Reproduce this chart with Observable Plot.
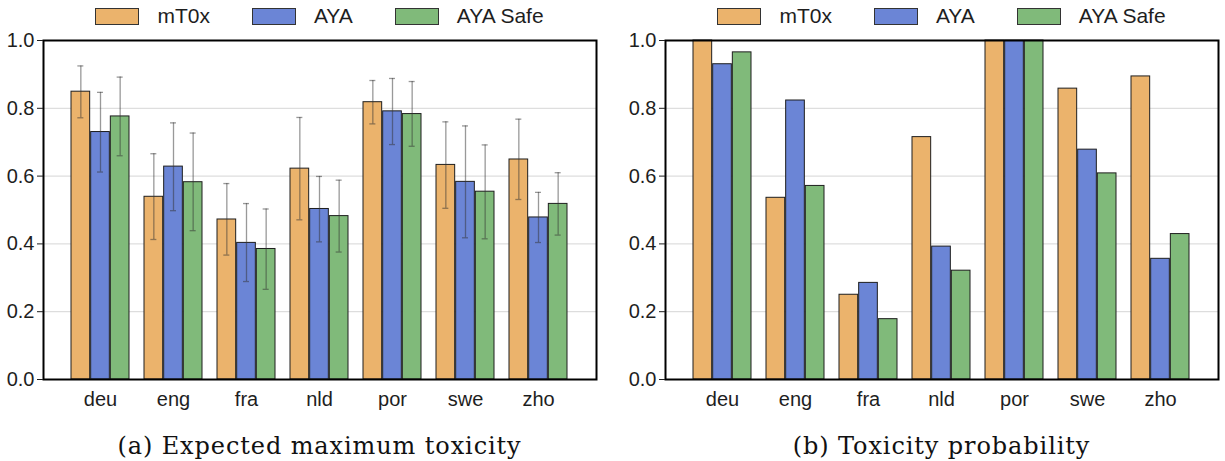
<!DOCTYPE html>
<html><head><meta charset="utf-8">
<script src="https://cdn.jsdelivr.net/npm/d3@7"></script>
<script src="https://cdn.jsdelivr.net/npm/@observablehq/plot@0.6"></script>
<style>
html,body{margin:0;padding:0;background:#fff;}
body{width:1225px;height:461px;overflow:hidden;position:relative;font-family:"Liberation Sans",Arial,sans-serif;color:#1e1e1e;}
.panel{position:absolute;top:0;height:461px;}
.legend{position:absolute;top:0;height:32px;display:flex;align-items:center;justify-content:center;font-size:21px;}
.item{display:flex;align-items:center;margin:0 21px;}
.sw{display:inline-block;width:42px;height:15px;border:1px solid #333;margin-right:18px;}
.chart{position:absolute;top:30px;left:0;}
.caption{position:absolute;top:432px;left:0;font-family:"DejaVu Serif",serif;font-size:24px;letter-spacing:0.9px;line-height:28px;text-align:center;white-space:nowrap;color:#111;}
</style></head>
<body>
<div id="pa" class="panel" style="left:0;width:610px;"></div>
<div id="pb" class="panel" style="left:610px;width:615px;"></div>
<script>
const langs = ["deu","eng","fra","nld","por","swe","zho"];
const models = ["mT0x","AYA","AYA Safe"];
const colors = ["#EBB36C","#6B85D6","#80BA7A"];
const yTicks = [0,0.2,0.4,0.6,0.8,1.0];
const captions = ["(a) Expected maximum toxicity","(b) Toxicity probability"];

// (a) Expected maximum toxicity
const mt0xExp = [0.849,0.539,0.472,0.622,0.818,0.633,0.649];
const ayaExp  = [0.730,0.628,0.403,0.503,0.791,0.583,0.478];
const safeExp = [0.776,0.582,0.385,0.482,0.783,0.554,0.518];
const mt0xLo = [0.772,0.413,0.367,0.471,0.754,0.505,0.531];
const mt0xHi = [0.925,0.666,0.578,0.773,0.882,0.760,0.768];
const ayaLo  = [0.612,0.498,0.289,0.406,0.693,0.418,0.404];
const ayaHi  = [0.847,0.757,0.519,0.599,0.888,0.748,0.552];
const safeLo = [0.660,0.439,0.266,0.376,0.688,0.415,0.426];
const safeHi = [0.892,0.727,0.503,0.588,0.879,0.692,0.610];

// (b) Toxicity probability
const mt0xProb = [1.000,0.536,0.250,0.715,1.000,0.858,0.894];
const ayaProb  = [0.930,0.823,0.285,0.392,1.000,0.678,0.356];
const safeProb = [0.965,0.571,0.178,0.321,1.000,0.608,0.429];

function build(vals, los, his) {
  const data = [];
  langs.forEach((l,i)=>models.forEach((m,j)=>data.push({
    lang:l, model:m, value:vals[j][i],
    lo: los ? los[j][i] : null, hi: his ? his[j][i] : null
  })));
  return data;
}

function makePanel(el, width, ml, mr, data, withErr, caption) {
  const xOpts = {type:"band", domain:langs, paddingInner:0.2, paddingOuter:0.35};
  const xs = Plot.scale({x:{...xOpts, range:[ml, width - mr]}});
  const w = xs.bandwidth / models.length;
  const capInset = (w - 7) / 2;
  const marks = [
    Plot.ruleY(yTicks.filter(t=>t>0&&t<1), {stroke:"#d6d6d6", strokeWidth:1})
  ];
  models.forEach((m,j)=>{
    const dj = data.filter(d=>d.model===m);
    marks.push(Plot.barY(dj, {x:"lang", y:"value", fill:"model", stroke:"#1e1e1e", strokeWidth:1,
      insetLeft:j*w, insetRight:(models.length-1-j)*w}));
  });
  if (withErr) {
    const es = {stroke:"#333", strokeOpacity:0.5, strokeWidth:1.3};
    models.forEach((m,j)=>{
      const dj = data.filter(d=>d.model===m);
      const off = (j - (models.length-1)/2) * w;
      marks.push(Plot.ruleX(dj, {x:"lang", y1:"lo", y2:"hi", dx:off, ...es}));
      const ins = {insetLeft:j*w + capInset, insetRight:(models.length-1-j)*w + capInset};
      marks.push(Plot.tickY(dj, {x:"lang", y:"lo", ...ins, ...es}));
      marks.push(Plot.tickY(dj, {x:"lang", y:"hi", ...ins, ...es}));
    });
  }
  marks.push(Plot.frame({stroke:"#000", strokeWidth:2}));
  marks.push(Plot.axisY({ticks:yTicks, tickFormat:d3.format(".1f"), tickSize:6, tickPadding:3, fontSize:20, label:null}));
  marks.push(Plot.axisX({tickSize:0, tickPadding:12, fontSize:20, label:null}));
  const svg = Plot.plot({
    width, height:380, marginTop:10, marginBottom:31, marginLeft:ml, marginRight:mr,
    style:{fontFamily:"'Liberation Sans', Arial, sans-serif", fontSize:"20px", color:"#1e1e1e", background:"#fff"},
    x:{...xOpts, label:null},
    y:{domain:[0,1]},
    color:{domain:models, range:colors},
    marks
  });
  const chart = document.createElement("div");
  chart.className = "chart";
  chart.appendChild(svg);
  el.appendChild(chart);

  const leg = document.createElement("div");
  leg.className = "legend";
  leg.style.left = ml + "px";
  leg.style.width = (width - ml - mr) + "px";
  models.forEach((m,j)=>{
    const it = document.createElement("div"); it.className = "item";
    const sw = document.createElement("span"); sw.className = "sw"; sw.style.background = colors[j];
    const tx = document.createElement("span"); tx.textContent = m;
    it.appendChild(sw); it.appendChild(tx); leg.appendChild(it);
  });
  el.appendChild(leg);

  const cap = document.createElement("div");
  cap.className = "caption";
  cap.style.left = ml + "px";
  cap.style.width = (width - ml - mr) + "px";
  cap.textContent = caption;
  el.appendChild(cap);
}

const dataA = build([mt0xExp, ayaExp, safeExp], [mt0xLo, ayaLo, safeLo], [mt0xHi, ayaHi, safeHi]);
const dataB = build([mt0xProb, ayaProb, safeProb]);
makePanel(document.getElementById("pa"), 610, 43, 14, dataA, true, captions[0]);
makePanel(document.getElementById("pb"), 615, 55, 7, dataB, false, captions[1]);
</script>
</body></html>
